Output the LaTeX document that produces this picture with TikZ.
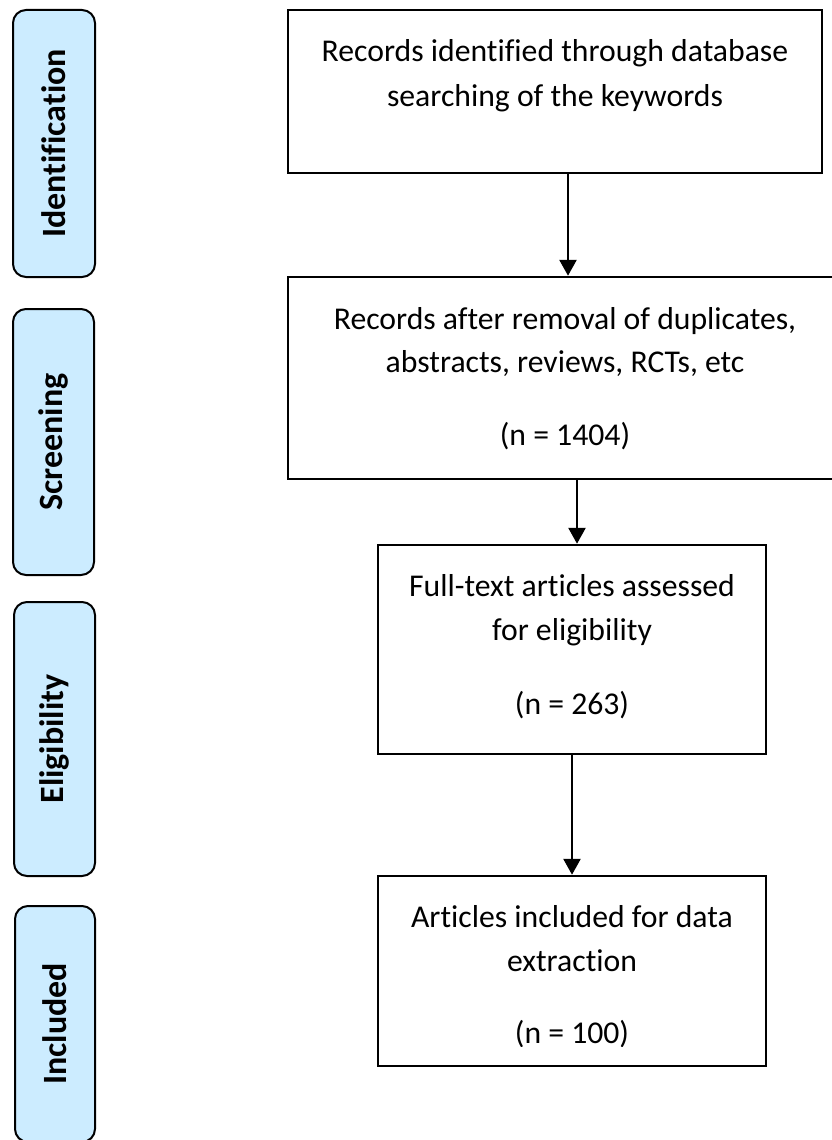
\documentclass[tikz,border=0pt]{standalone}
\usepackage{fontspec}
\setmainfont{Carlito}[Ligatures=NoCommon]
\usetikzlibrary{arrows.meta}
\definecolor{sidefill}{RGB}{204,236,255}
\tikzset{
  sidebox/.style={draw=black, line width=2pt, fill=sidefill, rounded corners=13pt,
    rotate=90, inner sep=0pt, font=\fontsize{34}{40}\selectfont\bfseries},
  mainbox/.style={draw=black, line width=2.5pt, inner sep=0pt},
  txt/.style={anchor=base, inner sep=0pt, font=\fontsize{31.7}{38}\selectfont},
  arr/.style={line width=2.7pt, -{Triangle[width=17pt,length=16pt]}}
}
\begin{document}
\begin{tikzpicture}[x=1pt,y=1pt]
\useasboundingbox[fill=white] (0,0) rectangle (831,-1140);
% side stage labels
\node[sidebox, minimum width=267pt, minimum height=82pt] (sid) at (54,-143.5) {Identification};
\node[sidebox, minimum width=266pt, minimum height=81pt] (sscr) at (53.5,-442) {Screening};
\node[sidebox, minimum width=274pt, minimum height=81pt] (selg) at (54.5,-739) {Eligibility};
\node[sidebox, minimum width=236pt, minimum height=80pt] (sinc) at (55,-1024) {Included};
% main boxes
\node[mainbox, minimum width=534pt, minimum height=163pt] (b1) at (555,-91.5) {};
\node[mainbox, minimum width=554pt, minimum height=202pt] (b2) at (565,-378) {};
\node[mainbox, minimum width=388pt, minimum height=209pt] (b3) at (572,-649.5) {};
\node[mainbox, minimum width=388pt, minimum height=190pt] (b4) at (572,-971) {};
% texts
\node[txt] (t1a) at (555,-62) {Records identified through database};
\node[txt] (t1b) at (555,-106) {searching of the keywords};
\node[txt] (t2a) at (565,-329) {Records after removal of duplicates,};
\node[txt] (t2b) at (565,-372) {abstracts, reviews, RCTs, etc};
\node[txt] (t2c) at (565,-445) {(n = 1404)};
\node[txt] (t3a) at (572,-596) {Full-text articles assessed};
\node[txt] (t3b) at (572,-640) {for eligibility};
\node[txt] (t3c) at (572,-714) {(n = 263)};
\node[txt] (t4a) at (572,-927) {Articles included for data};
\node[txt] (t4b) at (572,-971) {extraction};
\begin{scope}
\clip (b4.north west) rectangle ([yshift=21pt]b4.south east);
\node[txt] (t4c) at (572,-1043) {(n = 100)};
\end{scope}
% connectors
\draw[arr] ([xshift=13pt]b1.south) -- ([xshift=13pt]b1.south |- b2.north);
\draw[arr] ([xshift=12pt]b2.south) -- ([xshift=12pt]b2.south |- b3.north);
\draw[arr] (b3.south) -- (b4.north);
\end{tikzpicture}
\end{document}
